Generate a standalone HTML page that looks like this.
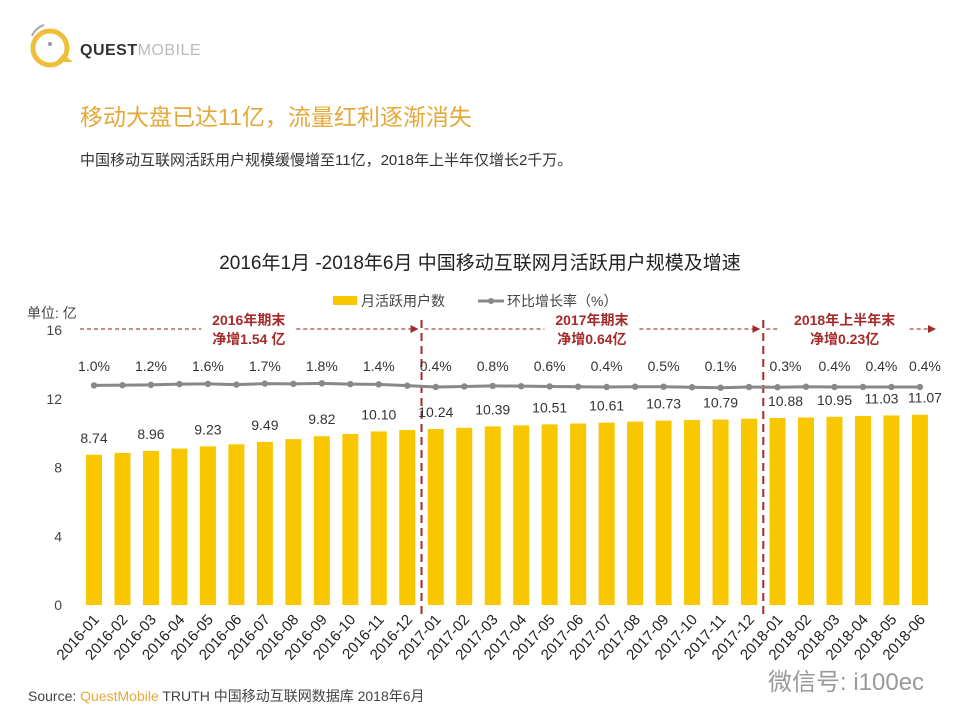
<!DOCTYPE html>
<html><head><meta charset="utf-8">
<style>
body{margin:0;background:#fff;}
svg text{font-family:"Liberation Sans","Noto Sans CJK SC",sans-serif;}
</style></head>
<body>
<svg width="960" height="720" viewBox="0 0 960 720">
<g>
  <circle cx="50" cy="48" r="17" fill="none" stroke="#eebf3c" stroke-width="5"/>
  <path d="M56 62 L73 62 L63 54 Z" fill="#eebf3c"/>
  <circle cx="50" cy="44" r="2" fill="#999"/>
  <path d="M32 36 A20 20 0 0 1 44 25" fill="none" stroke="#aaa" stroke-width="2"/>
  <text x="80" y="55" font-size="16" font-weight="bold" fill="#333" letter-spacing="0.5">QUEST<tspan font-weight="normal" fill="#bbb">MOBILE</tspan></text>
</g>
<text x="80" y="125" font-size="23" fill="#e5a93a">移动大盘已达11亿，流量红利逐渐消失</text>
<text x="80" y="165" font-size="15" fill="#333">中国移动互联网活跃用户规模缓慢增至11亿，2018年上半年仅增长2千万。</text>
<text x="480" y="269" font-size="19" fill="#222" text-anchor="middle">2016年1月 -2018年6月 中国移动互联网月活跃用户规模及增速</text>
<g>
  <rect x="333" y="296" width="24" height="9" fill="#f9c700"/>
  <text x="361" y="306" font-size="14" fill="#444">月活跃用户数</text>
  <line x1="478" y1="301" x2="504" y2="301" stroke="#888" stroke-width="3"/>
  <circle cx="491" cy="301" r="3" fill="#888"/>
  <text x="507" y="306" font-size="14" fill="#444">环比增长率（%）</text>
</g>
<text x="27" y="318" font-size="14" fill="#444">单位: 亿</text>
<g id="yaxis"></g>
<g id="annot"></g>
<g id="bars"></g>
<g id="line"></g>
<g id="xaxis"></g>
<text x="28" y="701" font-size="14" fill="#444">Source: <tspan fill="#e5a93a">QuestMobile</tspan> TRUTH 中国移动互联网数据库 2018年6月</text>
<text x="768" y="690" font-size="24" fill="#999">微信号: i100ec</text>
</svg>
<script>
const categories=["2016-01","2016-02","2016-03","2016-04","2016-05","2016-06","2016-07","2016-08","2016-09","2016-10","2016-11","2016-12","2017-01","2017-02","2017-03","2017-04","2017-05","2017-06","2017-07","2017-08","2017-09","2017-10","2017-11","2017-12","2018-01","2018-02","2018-03","2018-04","2018-05","2018-06"];
const mau=[8.74,8.85,8.96,9.10,9.23,9.35,9.49,9.65,9.82,9.95,10.10,10.18,10.24,10.31,10.39,10.45,10.51,10.56,10.61,10.67,10.73,10.76,10.79,10.84,10.88,10.91,10.95,11.00,11.03,11.07];
const growth=[1.0,1.1,1.2,1.5,1.6,1.3,1.7,1.6,1.8,1.5,1.4,0.9,0.4,0.6,0.8,0.7,0.6,0.5,0.4,0.5,0.5,0.3,0.1,0.4,0.3,0.5,0.4,0.4,0.4,0.4];
const labelIdx=[0,2,4,6,8,10,12,14,16,18,20,22,24,26,28,29];
const yTicks=[0,4,8,12,16];
const annotations=[{t1:"2016年期末",t2:"净增1.54 亿",from:0,to:11},{t1:"2017年期末",t2:"净增0.64亿",from:12,to:23},{t1:"2018年上半年末",t2:"净增0.23亿",from:24,to:29}];
const NS="http://www.w3.org/2000/svg";
function el(tag,attrs,parent,txt){const e=document.createElementNS(NS,tag);for(const k in attrs)e.setAttribute(k,attrs[k]);if(txt!==undefined)e.textContent=txt;parent.appendChild(e);return e;}
const y0=605,y16=330;
const yScale=v=>y0-(v/16)*(y0-y16);
const xScale=i=>94+i*28.48;
const gScale=g=>388-g*2.6;
const bw=16;
const labelShift=i=>i===24?8:(i===28?-10:(i===29?5:0));
const ya=document.getElementById('yaxis');
yTicks.forEach(t=>{const e=el('text',{x:62,y:yScale(t)+5,'font-size':14,fill:'#444','text-anchor':'end'},ya,t);

});
const bars=document.getElementById('bars');
mau.forEach((v,i)=>{const r=el('rect',{x:xScale(i)-bw/2,y:yScale(v),width:bw,height:y0-yScale(v),fill:'#f9c700'},bars);

});
const ln=document.getElementById('line');
el('polyline',{points:growth.map((g,i)=>xScale(i)+','+gScale(g)).join(' '),fill:'none',stroke:'#888','stroke-width':3},ln);
growth.forEach((g,i)=>{const c=el('circle',{cx:xScale(i),cy:gScale(g),r:3.2,fill:'#888'},ln);

});
labelIdx.forEach(i=>{
 const t=el('text',{x:xScale(i)+labelShift(i),y:yScale(mau[i])-12,'font-size':14,fill:'#333','text-anchor':'middle'},bars,mau[i].toFixed(2));
 
 
 const p=el('text',{x:xScale(i)+labelShift(i),y:371,'font-size':14,fill:'#333','text-anchor':'middle'},ln,growth[i].toFixed(1)+'%');
 
 
});
const xa=document.getElementById('xaxis');
categories.forEach((c,i)=>{const x=xScale(i)+6,y=620;
 const t=el('text',{x:x,y:y,'font-size':15,fill:'#222','text-anchor':'end',transform:`rotate(-48 ${x} ${y})`},xa,c);
 
 });
const an=document.getElementById('annot');
el('defs',{},an).innerHTML='<marker id="arr" markerWidth="8" markerHeight="8" refX="7" refY="4" orient="auto"><path d="M0,0 L8,4 L0,8 Z" fill="#a52a2a"/></marker>';
annotations.forEach((a,k)=>{
 const x1=(k===0?80:(xScale(a.from)+xScale(a.from-1))/2+3), x2=(k===2?935:(xScale(a.to)+xScale(a.to+1))/2-4);
 const cx=(x1+x2)/2+(k===2?-6:0);
 const w=k===2?130:95;
 el('line',{x1:x1,y1:329,x2:cx-w/2,y2:329,stroke:'#8b1a1a','stroke-dasharray':'4,3','stroke-width':1},an);
 el('line',{x1:cx+w/2,y1:329,x2:x2,y2:329,stroke:'#8b1a1a','stroke-dasharray':'4,3','stroke-width':1,'marker-end':'url(#arr)'},an);
 const t1=el('text',{x:cx,y:325,'font-size':14,'font-weight':'bold',fill:'#a52a2a','text-anchor':'middle'},an,a.t1);
 
 
 const t2=el('text',{x:cx,y:344,'font-size':14,'font-weight':'bold',fill:'#a52a2a','text-anchor':'middle'},an,a.t2);
 
 
 if(k>0){const d=el('line',{x1:x1-3,y1:320,x2:x1-3,y2:617,stroke:'#a52a2a','stroke-dasharray':'8,5','stroke-width':2},an);
 
 }
});
</script>
</body></html>
